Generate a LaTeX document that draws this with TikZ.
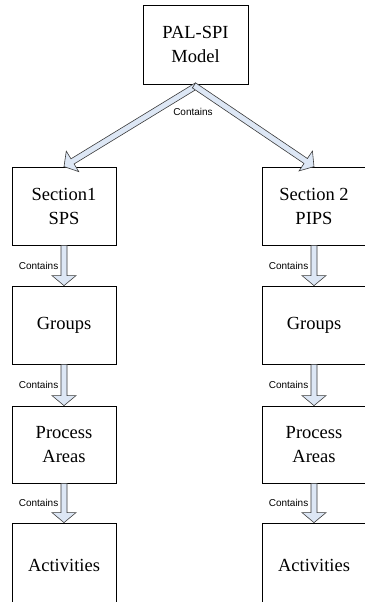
\documentclass[tikz,border=0pt]{standalone}
\usepackage{fontspec}
\setmainfont{Liberation Serif}
\newfontfamily\labelfont{Liberation Sans}
\usetikzlibrary{calc}
\definecolor{arrowfill}{HTML}{DDE7F5}
\definecolor{arrowline}{HTML}{3A3A3A}
\tikzset{
  box/.style={draw=black, line width=0.8pt, rectangle, align=center, inner sep=0pt,
    minimum width=104pt, font=\fontsize{18.5}{24}\selectfont},
  blockarrow/.style={draw=arrowline, fill=arrowfill, line width=0.6pt, line join=miter},
  lbl/.style={font=\labelfont\fontsize{10}{12}\selectfont, inner sep=0pt}
}
\newcommand\blockarr[2]{%
  \coordinate (ba-s) at (#1);
  \coordinate (ba-e) at (#2);
  \coordinate (ba-h) at ($(ba-e)!10pt!(ba-s)$);
  \draw[blockarrow] ($(ba-s)!3pt!90:(ba-e)$) -- ($(ba-h)!3pt!90:(ba-e)$)
    -- ($(ba-h)!12pt!90:(ba-e)$) -- (ba-e) -- ($(ba-h)!12pt!-90:(ba-e)$)
    -- ($(ba-h)!3pt!-90:(ba-e)$) -- ($(ba-s)!3pt!-90:(ba-e)$) -- cycle;
}
\begin{document}
\begin{tikzpicture}
\useasboundingbox (0,0) rectangle (364pt,-602pt);
% boxes
\node[box, minimum width=105pt, minimum height=79pt] (top) at (195.5pt,-44.5pt) {PAL-SPI\\Model};
\node[box, minimum height=78pt] (sec1) at (64pt,-206pt) {Section1\\SPS};
\node[box, minimum height=78pt] (sec2) at (314pt,-206pt) {Section 2\\PIPS};
\node[box, minimum height=78pt] (grp1) at (64pt,-325pt) {Groups};
\node[box, minimum height=78pt] (grp2) at (314pt,-325pt) {Groups};
\node[box, minimum height=77pt] (proc1) at (64pt,-444.5pt) {Process\\Areas};
\node[box, minimum height=77pt] (proc2) at (314pt,-444.5pt) {Process\\Areas};
\node[box, minimum height=84pt] (act1) at (64pt,-565pt) {Activities};
\node[box, minimum height=84pt] (act2) at (314pt,-565pt) {Activities};
% diagonal arrows
\coordinate (tl) at ($(top.south)+(1.5pt,-1pt)$);
\coordinate (tr) at ($(top.south)+(-1.5pt,-1pt)$);
\blockarr{tl}{sec1.north}
\blockarr{tr}{sec2.north}
\node[lbl] (ctop) at (193pt,-112pt) {Contains};
% vertical arrows
\foreach \a/\b/\n in {sec1/grp1/c1, grp1/proc1/c2, proc1/act1/c3, sec2/grp2/c4, grp2/proc2/c5, proc2/act2/c6}{
  \blockarr{\a.south}{\b.north}
  \node[lbl, anchor=east] (\n) at ($(\a.south)!0.5!(\b.north)+(-5.5pt,0)$) {Contains};
}
\end{tikzpicture}
\end{document}
